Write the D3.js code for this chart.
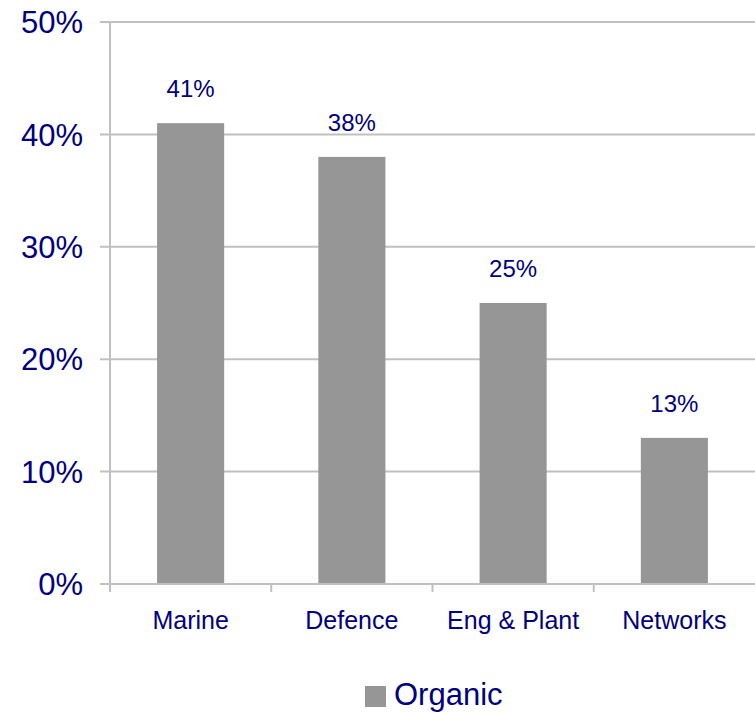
<!DOCTYPE html>
<html>
<head>
<meta charset="utf-8">
<script src="https://cdn.jsdelivr.net/npm/d3@7"></script>
<style>
  html, body { margin: 0; padding: 0; background: #fff; }
  svg { display: block; font-family: "Liberation Sans", Arial, sans-serif; }
</style>
</head>
<body>
<svg id="chart" width="755" height="714"></svg>
<script>
// Share of organic revenue by division
const categories = ["Marine", "Defence", "Eng & Plant", "Networks"];
const organic = [0.41, 0.38, 0.25, 0.13];
const yTicks = [0, 0.1, 0.2, 0.3, 0.4, 0.5];
const seriesName = "Organic";

const textColor = "#000080";
const barColor = "#969696";
const gridColor = "#c0c0c0";

const svg = d3.select("#chart");
const plot = { left: 110, right: 755, top: 22, bottom: 584 };

const x = d3.scaleBand().domain(categories).range([plot.left, plot.right])
  .paddingInner(0.584).paddingOuter(0.292);
const xBands = d3.scaleBand().domain(categories).range([plot.left, plot.right]);
const y = d3.scaleLinear().domain([0, 0.5]).range([plot.bottom, plot.top]);
const pct = d3.format(".0%");

// Horizontal gridlines with short outer ticks
svg.append("g").selectAll("line").data(yTicks).join("line")
  .attr("x1", plot.left - 10).attr("x2", plot.right)
  .attr("y1", d => y(d)).attr("y2", d => y(d))
  .attr("stroke", gridColor).attr("stroke-width", 2);

// Y axis labels
svg.append("g").selectAll("text").data(yTicks).join("text")
  .attr("x", 83).attr("y", d => y(d)).attr("dy", "0.36em")
  .attr("text-anchor", "end")
  .attr("fill", textColor).attr("font-size", 31)
  .text(d => pct(d));

// Vertical axis line
svg.append("line")
  .attr("x1", plot.left).attr("x2", plot.left)
  .attr("y1", plot.top).attr("y2", plot.bottom + 8)
  .attr("stroke", gridColor).attr("stroke-width", 2);

// Category boundary ticks below the baseline
const boundaries = categories.map(c => xBands(c)).concat([plot.right]);
svg.append("g").selectAll("line").data(boundaries.slice(1, -1)).join("line")
  .attr("x1", d => d).attr("x2", d => d)
  .attr("y1", plot.bottom).attr("y2", plot.bottom + 8)
  .attr("stroke", gridColor).attr("stroke-width", 2);

// Bars
svg.append("g").selectAll("rect").data(categories).join("rect")
  .attr("x", c => x(c))
  .attr("width", x.bandwidth())
  .attr("y", (c, i) => y(organic[i]))
  .attr("height", (c, i) => y(0) - y(organic[i]))
  .attr("fill", barColor);

// Baseline drawn over the bars
svg.append("line")
  .attr("x1", plot.left - 10).attr("x2", plot.right)
  .attr("y1", plot.bottom).attr("y2", plot.bottom)
  .attr("stroke", gridColor).attr("stroke-width", 2);

// Value labels above bars
svg.append("g").selectAll("text").data(categories).join("text")
  .attr("x", c => x(c) + x.bandwidth() / 2)
  .attr("y", (c, i) => y(organic[i]) - 26)
  .attr("text-anchor", "middle")
  .attr("fill", textColor).attr("font-size", 24)
  .text((c, i) => pct(organic[i]));

// Category labels
svg.append("g").selectAll("text").data(categories).join("text")
  .attr("x", c => xBands(c) + xBands.bandwidth() / 2)
  .attr("y", 629)
  .attr("text-anchor", "middle")
  .attr("fill", textColor).attr("font-size", 25)
  .text(c => c);

// Legend
const legend = svg.append("g").attr("transform", "translate(365,686)");
legend.append("rect").attr("width", 21).attr("height", 21).attr("fill", barColor);
legend.append("text").attr("x", 29).attr("y", 19)
  .attr("fill", textColor).attr("font-size", 31).text(seriesName);
</script>
</body>
</html>
